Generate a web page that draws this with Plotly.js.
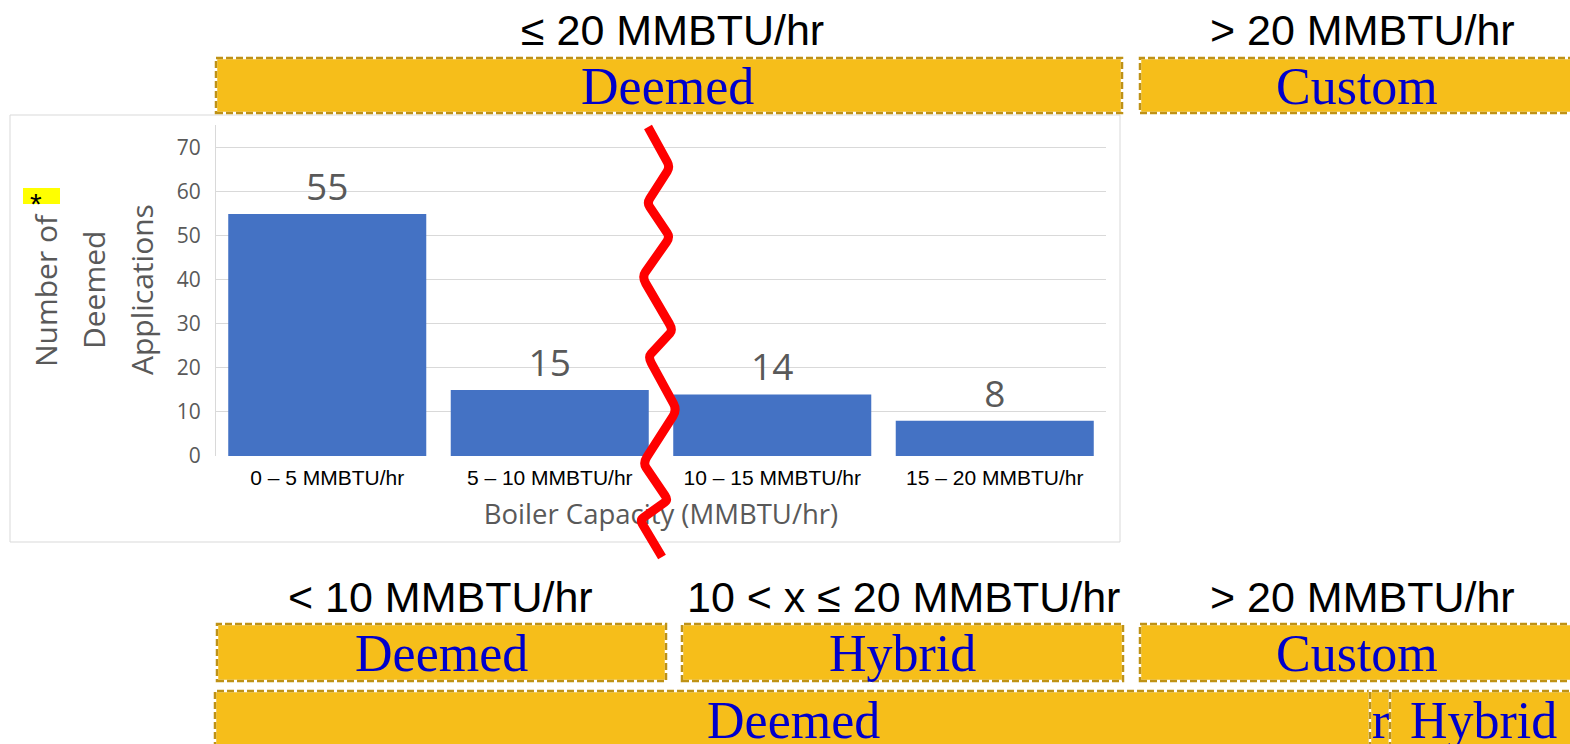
<!DOCTYPE html>
<html>
<head>
<meta charset="utf-8">
<script src="https://cdn.plot.ly/plotly-3.0.1.min.js"></script>
<style>html,body{margin:0;padding:0;background:#fff;}#chart{width:1570px;height:744px;}</style>
</head>
<body>
<div id="chart"></div>
<script>
// ---- data ----
const categories = ["0 – 5 MMBTU/hr", "5 – 10 MMBTU/hr", "10 – 15 MMBTU/hr", "15 – 20 MMBTU/hr"];
const applications = [55, 15, 14, 8];
const yTickValues = [0, 10, 20, 30, 40, 50, 60, 70];
const yTitleLines = ["Number of", "Deemed", "Applications"];
const xTitle = "Boiler Capacity (MMBTU/hr)";

// ---- page geometry helpers (pixels -> paper) ----
const W = 1570, H = 744;
const X = p => p / W;
const Y = p => 1 - p / H;

const GOLD = "#F6BE1A", EDGE = "#BF9216", BLUE = "#0000CC";

// banner boxes: [x0, y0, x1, y1]
const boxes = [
  [216, 58, 1122, 113], [1140, 58, 1600, 113],
  [217, 624, 666, 681], [682, 624, 1123, 681], [1140, 624, 1600, 681],
  [215, 691, 1370, 800], [1370, 691, 1390, 800], [1390, 691, 1600, 800]
];
// box labels: [text, cx, cy]
const boxLabels = [
  ["Deemed", 667, 86], ["Custom", 1357, 86],
  ["Deemed", 441, 653], ["Hybrid", 902, 653], ["Custom", 1357, 653],
  ["Deemed", 793, 720], ["r", 1380, 720], ["Hybrid", 1483, 720]
];
// range headings: [text, cx, cy]
const headings = [
  ["≤ 20 MMBTU/hr", 672, 30], ["> 20 MMBTU/hr", 1362, 30],
  ["< 10 MMBTU/hr", 440, 597], ["10 < x ≤ 20 MMBTU/hr", 903, 597], ["> 20 MMBTU/hr", 1362, 597]
];
// hand-drawn red break line (pixels)
const squiggle = [[648,127],[670,167],[647,203],[670,237],[642,277],[673,330],[648,357],[677,410],[643,463],[668,500],[640,520],[662,557]];

const shapes = [];
// chart frame
shapes.push({type:"rect", xref:"paper", yref:"paper", x0:X(10), x1:X(1120), y0:Y(542), y1:Y(115),
  line:{color:"#D9D9D9", width:1}, fillcolor:"rgba(0,0,0,0)", layer:"below"});
// yellow highlight for asterisk
shapes.push({type:"rect", xref:"paper", yref:"paper", x0:X(23), x1:X(60), y0:Y(204), y1:Y(188),
  line:{width:0}, fillcolor:"#FFFF00", layer:"below"});
boxes.forEach(b => {
  shapes.push({type:"rect", xref:"paper", yref:"paper", x0:X(b[0]), x1:X(b[2]), y0:Y(b[3]), y1:Y(b[1]),
    fillcolor:GOLD, line:{color:"#FFFFFF", width:2.5}, layer:"above"});
  shapes.push({type:"rect", xref:"paper", yref:"paper", x0:X(b[0]), x1:X(b[2]), y0:Y(b[3]), y1:Y(b[1]),
    fillcolor:"rgba(0,0,0,0)", line:{color:EDGE, width:2.5, dash:"7px,3px"}, layer:"above"});
});
// smoothed path through the squiggle points (quadratic curves through midpoints)
let path = "M" + X(squiggle[0][0]).toFixed(5) + "," + Y(squiggle[0][1]).toFixed(5);
for (let i = 1; i < squiggle.length - 1; i++) {
  const p = squiggle[i], q = squiggle[i + 1];
  const mx = (p[0] + q[0]) / 2, my = (p[1] + q[1]) / 2;
  const bx = p[0] + (squiggle[i-1][0] - p[0]) * 0.12, by = p[1] + (squiggle[i-1][1] - p[1]) * 0.12;
  const ax = p[0] + (q[0] - p[0]) * 0.12, ay = p[1] + (q[1] - p[1]) * 0.12;
  path += " L" + X(bx).toFixed(5) + "," + Y(by).toFixed(5) +
          " Q" + X(p[0]).toFixed(5) + "," + Y(p[1]).toFixed(5) + " " + X(ax).toFixed(5) + "," + Y(ay).toFixed(5);
}
const last = squiggle[squiggle.length - 1];
path += " L" + X(last[0]).toFixed(5) + "," + Y(last[1]).toFixed(5);
shapes.push({type:"path", xref:"paper", yref:"paper", path:path, line:{color:"#FF0000", width:9}, layer:"above"});

const annotations = [];
boxLabels.forEach(l => annotations.push({xref:"paper", yref:"paper", x:X(l[1]), y:Y(l[2]), text:l[0],
  showarrow:false, xanchor:"center", yanchor:"middle", font:{family:"Liberation Serif, Times New Roman, serif", size:52, color:BLUE}}));
headings.forEach(h => annotations.push({xref:"paper", yref:"paper", x:X(h[1]), y:Y(h[2]), text:h[0],
  showarrow:false, xanchor:"center", yanchor:"middle", font:{family:"Liberation Sans, Arial, sans-serif", size:43, color:"#000"}}));
const yTitleX = [45, 93, 141];
yTitleLines.forEach((t, i) => annotations.push({xref:"paper", yref:"paper", x:X(yTitleX[i]), y:Y(290), text:t,
  textangle:-90, showarrow:false, xanchor:"center", yanchor:"middle", font:{family:"Open Sans, sans-serif", size:30, color:"#595959"}}));
annotations.push({xref:"paper", yref:"paper", x:X(36), y:Y(204), text:"*", showarrow:false, xanchor:"center", yanchor:"middle",
  font:{family:"Liberation Sans, Arial, sans-serif", size:30, color:"#000"}});

const traces = [
  {type:"bar", x:categories, y:applications, xaxis:"x", yaxis:"y",
   marker:{color:"#4472C4"}, text:applications.map(String), textposition:"outside", cliponaxis:false,
   textfont:{family:"Open Sans, sans-serif", size:37, color:"#595959"}, hoverinfo:"skip"},
  {type:"scatter", mode:"text", x:[661], y:[517], text:[xTitle], xaxis:"x2", yaxis:"y2",
   textfont:{family:"Open Sans, sans-serif", size:27.5, color:"#595959"}, hoverinfo:"skip", cliponaxis:false}
];

const layout = {
  width:W, height:H, margin:{l:0, r:0, t:0, b:0}, showlegend:false,
  paper_bgcolor:"#FFFFFF", plot_bgcolor:"rgba(0,0,0,0)",
  bargap:0.11,
  xaxis:{domain:[X(216), X(1106)], type:"category", showgrid:false, showline:false, zeroline:false, ticks:"",
    tickfont:{family:"Liberation Sans, Arial, sans-serif", size:21, color:"#000"},
    ticklabelstandoff:7, fixedrange:true},
  yaxis:{domain:[Y(456), Y(125)], range:[0, 75.2], tickvals:yTickValues, showgrid:true, gridcolor:"#D9D9D9", gridwidth:1,
    zeroline:false, showline:true, linecolor:"#D9D9D9", linewidth:1, ticks:"",
    tickfont:{family:"Open Sans, sans-serif", size:21, color:"#595959"}, ticklabelstandoff:10, fixedrange:true},
  xaxis2:{domain:[0,1], range:[0, W], visible:false, anchor:"y2", fixedrange:true},
  yaxis2:{domain:[0,1], range:[H, 0], visible:false, anchor:"x2", fixedrange:true},
  shapes:shapes, annotations:annotations
};

Plotly.newPlot("chart", traces, layout, {displayModeBar:false, staticPlot:true});
</script>
</body>
</html>
